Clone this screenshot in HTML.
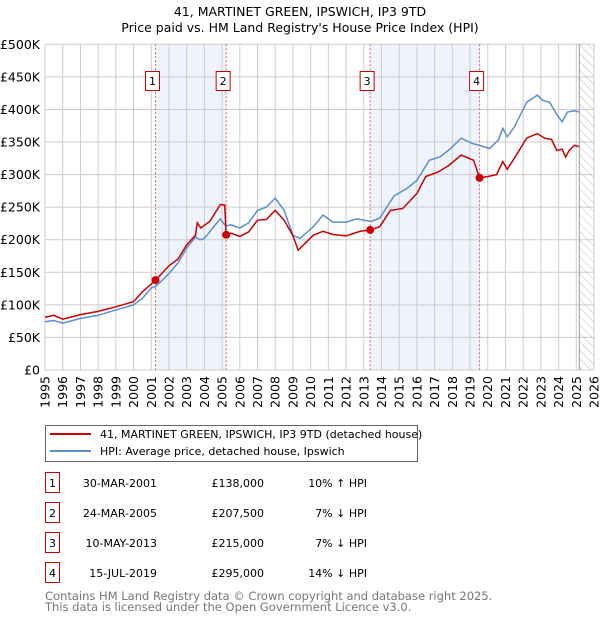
<!DOCTYPE html>
<html><head><meta charset="utf-8"><style>
body{margin:0;background:#fff;font-family:"DejaVu Sans","Liberation Sans",sans-serif;}
svg text{font-family:"DejaVu Sans","Liberation Sans",sans-serif;}
</style></head><body>
<svg id="chart" width="600" height="620" viewBox="0 0 600 620" xmlns="http://www.w3.org/2000/svg">
<defs><pattern id="hatch" width="6" height="6" patternUnits="userSpaceOnUse" patternTransform="rotate(-45)"><line x1="0" y1="0" x2="0" y2="6" stroke="#bbb" stroke-width="1"/></pattern></defs>
<text x="300" y="16" text-anchor="middle" font-size="12.5">41, MARTINET GREEN, IPSWICH, IP3 9TD</text>
<text x="300" y="32" text-anchor="middle" font-size="12.5">Price paid vs. HM Land Registry's House Price Index (HPI)</text>
<g id="plot"></g>
<g>
<rect x="45.5" y="425.5" width="372" height="36" fill="#fff" stroke="#666"/>
<line x1="50" y1="434" x2="91" y2="434" stroke="#cc0000" stroke-width="2"/>
<text x="100" y="438" font-size="11">41, MARTINET GREEN, IPSWICH, IP3 9TD (detached house)</text>
<line x1="50" y1="451" x2="91" y2="451" stroke="#5b8fd0" stroke-width="2"/>
<text x="100" y="455" font-size="11">HPI: Average price, detached house, Ipswich</text>
</g>
<g id="table" font-size="11"></g>
<text x="45" y="600" font-size="11.5" fill="#777">Contains HM Land Registry data © Crown copyright and database right 2025.</text>
<text x="45" y="611" font-size="11.5" fill="#777">This data is licensed under the Open Government Licence v3.0.</text>
</svg>
<script>
const hpiYears=[1995,1995.5,1996,1997,1998,1999,2000,2000.5,2001,2001.25,2002,2002.5,2003,2003.5,2003.75,2004,2004.5,2004.9,2005.2,2005.5,2006,2006.5,2007,2007.5,2008,2008.5,2009,2009.4,2010.15,2010.7,2011.25,2012,2012.6,2013.4,2013.9,2014.7,2015.45,2016,2016.7,2017.3,2017.9,2018.5,2019.1,2019.5,2020.1,2020.6,2020.85,2021.1,2021.5,2022.2,2022.8,2023.1,2023.5,2023.9,2024.2,2024.5,2024.9,2025.15];
const hpiValues=[74,76,72,79,84,92,100,110,126,128,148,164,187,204,200,202,219,232,221,223,218,226,245,250,264,245,207,202,220,238,227,227,232,228,233,267,279,291,322,327,340,356,348,345,340,353,371,358,373,411,422,414,411,392,381,396,398,396];
const priceYears=[1995,1995.5,1996,1997,1998,1999,2000,2000.5,2001,2001.25,2002,2002.5,2003,2003.5,2003.6,2003.8,2004.3,2004.9,2005.15,2005.23,2005.5,2006,2006.5,2007,2007.5,2008,2008.5,2009,2009.3,2010.15,2010.7,2011.25,2012,2012.8,2013.36,2013.9,2014.5,2015.2,2016,2016.5,2017.2,2017.8,2018.5,2019.2,2019.54,2020,2020.5,2020.85,2021.1,2021.5,2022.2,2022.8,2023.2,2023.6,2023.9,2024.2,2024.4,2024.6,2024.9,2025.15];
const priceValues=[81,84,78,85,90,97,105,120,132,138,160,170,192,207,226,218,228,254,253,207.5,210,205,212,230,231,245,230,206,184,207,213,208,206,213,215,220,245,248,271,297,304,314,330,322,295,297,300,320,308,325,356,363,356,354,337,339,327,337,345,343];
const saleLabels=["1","2","3","4"];
const saleYears=[2001.24,2005.23,2013.36,2019.54];
const salePrices=[138,207.5,215,295];
const saleDates=["30-MAR-2001","24-MAR-2005","10-MAY-2013","15-JUL-2019"];
const salePriceText=["£138,000","£207,500","£215,000","£295,000"];
const saleDiffText=["10% ↑ HPI","7% ↓ HPI","7% ↓ HPI","14% ↓ HPI"];
const yTicks=[0,50,100,150,200,250,300,350,400,450,500];
const yTickLabels=["£0","£50K","£100K","£150K","£200K","£250K","£300K","£350K","£400K","£450K","£500K"];
const xTicks=[1995,1996,1997,1998,1999,2000,2001,2002,2003,2004,2005,2006,2007,2008,2009,2010,2011,2012,2013,2014,2015,2016,2017,2018,2019,2020,2021,2022,2023,2024,2025,2026];
const dataEnd=2025.17;

const X0=45,X1=594,Y0=370,Y1=44.3;
const xs=y=>X0+(y-1995)*(X1-X0)/31;
const ys=v=>Y0-v*(Y0-Y1)/500;
const NS="http://www.w3.org/2000/svg";
const plot=document.getElementById('plot');
function mk(tag,at,parent){const e=document.createElementNS(NS,tag);for(const k in at)e.setAttribute(k,at[k]);(parent||plot).appendChild(e);return e;}

for(let i=0;i<saleYears.length;i+=2){
 const r=mk('rect',{x:xs(saleYears[i]),y:Y1,width:xs(saleYears[i+1])-xs(saleYears[i]),height:Y0-Y1,fill:'#eef3fc'});
 
 
}
yTicks.forEach((t,i)=>{
 const l=mk('line',{x1:X0,x2:X1,y1:ys(t),y2:ys(t),stroke:'#cccccc','stroke-width':1});
 
 
 const tx=mk('text',{x:X0-5,y:ys(t)+4.5,'text-anchor':'end','font-size':12.5});
 
 
 tx.textContent=yTickLabels[i];
});
xTicks.forEach(t=>{
 const l=mk('line',{x1:xs(t),x2:xs(t),y1:Y1,y2:Y0,stroke:'#cccccc','stroke-width':1});
 
 
 const px=xs(t)+4.5, py=Y0+6;
 const tx=mk('text',{x:px,y:py,'text-anchor':'end','font-size':12.5,transform:'rotate(-90 '+px+' '+py+')'});
 
 
 tx.textContent=t;
});
const h=mk('rect',{x:xs(dataEnd),y:Y1,width:X1-xs(dataEnd),height:Y0-Y1,fill:'url(#hatch)'});


const hl=mk('line',{x1:xs(dataEnd),x2:xs(dataEnd),y1:Y1,y2:Y0,stroke:'#999','stroke-width':1});


saleYears.forEach((s,i)=>{
 const l=mk('line',{x1:xs(s),x2:xs(s),y1:Y1,y2:Y0,stroke:'#e06060','stroke-width':1,'stroke-dasharray':'2,2'});
 
 
 const b=mk('rect',{x:xs(s)-10,y:71.5,width:14,height:19,fill:'#fff',stroke:'#cc0000'});
 
 
 const t=mk('text',{x:xs(s)-3,y:85,'text-anchor':'middle','font-size':11});
 
 
 t.textContent=saleLabels[i];
});
const hp=mk('polyline',{points:hpiYears.map((y,i)=>xs(y)+','+ys(hpiValues[i])).join(' '),fill:'none',stroke:'#5b8fd0','stroke-width':1.5});


const pp=mk('polyline',{points:priceYears.map((y,i)=>xs(y)+','+ys(priceValues[i])).join(' '),fill:'none',stroke:'#cc0000','stroke-width':1.5});


saleYears.forEach((s,i)=>{
 const c=mk('circle',{cx:xs(s),cy:ys(salePrices[i]),r:4,fill:'#cc0000'});
 
 
});
const tb=document.getElementById('table');
saleLabels.forEach((lab,i)=>{
 const y=483+i*30;
 const b=mk('rect',{x:45.5,y:y-10.5,width:14,height:20,fill:'#fff',stroke:'#cc0000'},tb);
 
 
 const items=[[52.5,'middle',lab],[157,'end',saleDates[i]],[264,'end',salePriceText[i]],[367,'end',saleDiffText[i]]];
 const names=['row-number','row-date','row-price','row-hpi-diff'];
 items.forEach((it,j)=>{
  const t=mk('text',{x:it[0],y:y+4,'text-anchor':it[1],'font-size':11},tb);
  
  
  t.textContent=it[2];
 });
});
</script>
</body></html>
